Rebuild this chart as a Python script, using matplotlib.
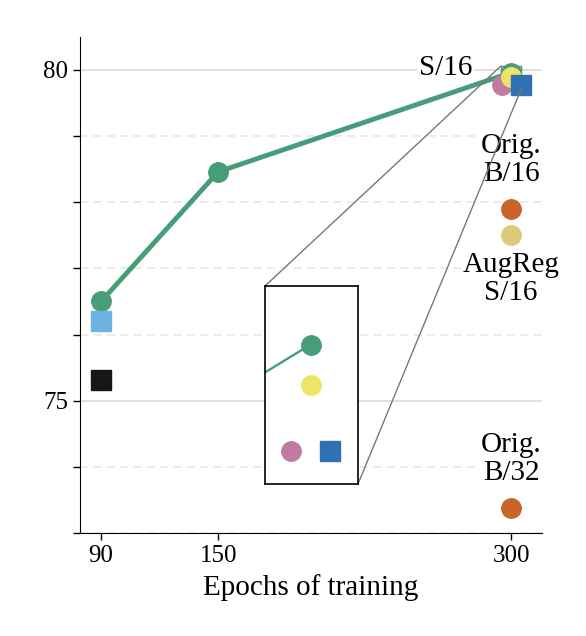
import matplotlib
matplotlib.use("Agg")
import matplotlib.pyplot as plt
import numpy as np
from matplotlib.ticker import FixedLocator
from mpl_toolkits.axes_grid1.inset_locator import mark_inset

plt.rcParams['font.family'] = ['Liberation Serif', 'DejaVu Serif']
plt.rcParams['font.size'] = 18

# datos
epochs_line = [90, 150, 300]
acc_line = [76.5, 78.46, 79.96]

sq_light_x = [90]
sq_light_y = [76.2]
sq_black_x = [90]
sq_black_y = [75.32]

# puntos a 300 epochs (cercanos entre si)
yellow_y = 79.887
pink_y = 79.77
blue_y = 79.77
jit_main = [-4.8, 5.0]   # desplazamiento pink / blue en el grafico
jit_ins = [-2.1, 2.1]    # desplazamiento en el zoom

b16_y = 77.9
aug_y = 77.5
b32_y = 73.38

c_green = '#479d78'
c_light = '#6cb3e4'
c_black = '#161616'
c_pink = '#c27ba0'
c_yellow = '#efe466'
c_blue = '#3071b1'
c_orange = '#c9642a'
c_tan = '#dccb7c'

ms = 14
fs_txt = 21

fig = plt.figure(figsize=(5.86, 6.36), dpi=100)
ax = fig.add_axes([0.1365, 0.162, 0.7885, 0.78])

ax.plot(epochs_line, acc_line, '-o', color=c_green, lw=3.5, ms=ms, zorder=3)
ax.plot(sq_light_x, sq_light_y, 's', color=c_light, ms=ms, zorder=3)
ax.plot(sq_black_x, sq_black_y, 's', color=c_black, ms=ms, zorder=3)
ax.plot([300 + jit_main[0]], [pink_y], 'o', color=c_pink, ms=ms, zorder=3)
ax.plot([300], [yellow_y], 'o', color=c_yellow, ms=ms, zorder=3.2)
ax.plot([300 + jit_main[1]], [blue_y], 's', color=c_blue, ms=ms, zorder=3.3)
ax.plot([300], [b16_y], 'o', color=c_orange, ms=ms, zorder=3)
ax.plot([300], [aug_y], 'o', color=c_tan, ms=ms, zorder=3)
ax.plot([300], [b32_y], 'o', color=c_orange, ms=ms, zorder=3)

ax.set_xlim(79.2, 315.9)
ax.set_ylim(73.0, 80.5)
ax.set_xticks([90, 150, 300])
ax.yaxis.set_major_locator(FixedLocator([75, 80]))
ax.yaxis.set_minor_locator(FixedLocator([73, 74, 76, 77, 78, 79]))
ax.grid(axis='y', which='major', color='#dddddd', lw=1.3, zorder=0)
ax.grid(axis='y', which='minor', color='#e8e8e8', lw=1.2, ls=(0, (5, 3)), zorder=0)
ax.set_axisbelow(True)
ax.tick_params(which='both', length=5, width=1)
for s in ['top', 'right']:
    ax.spines[s].set_visible(False)
ax.set_xlabel('Epochs of training', fontsize=fs_txt, labelpad=5)

bb = dict(facecolor='white', edgecolor='none', pad=1)
ax.text(266.5, 80.03, 'S/16', ha='center', va='center', bbox=bb, zorder=5,
        fontsize=fs_txt)
ax.text(300, 78.64, 'Orig.\nB/16', ha='center', va='center', bbox=bb, zorder=5,
        linespacing=1.12, fontsize=fs_txt)
ax.text(300, 76.84, 'AugReg\nS/16', ha='center', va='center', bbox=bb, zorder=5,
        linespacing=1.12, fontsize=fs_txt)
ax.text(300, 74.12, 'Orig.\nB/32', ha='center', va='center', bbox=bb, zorder=5,
        linespacing=1.12, fontsize=fs_txt)

# zoom
axins = fig.add_axes([0.4522, 0.239, 0.1587, 0.3113])
axins.plot(epochs_line, acc_line, '-o', color=c_green, lw=1.7, ms=ms)
axins.plot([300], [yellow_y], 'o', color=c_yellow, ms=ms)
axins.plot([300 + jit_ins[0]], [pink_y], 'o', color=c_pink, ms=ms)
axins.plot([300 + jit_ins[1]], [blue_y], 's', color=c_blue, ms=ms)
axins.set_xlim(295.0, 305.2)
axins.set_ylim(79.71, 80.065)
axins.set_xticks([])
axins.set_yticks([])
for s in axins.spines.values():
    s.set_linewidth(1.2)
    s.set_color('black')

p, c1, c2 = mark_inset(ax, axins, loc1=2, loc2=4, fc='none', ec='#777777', lw=1.0)
p.set_zorder(2.5)
c1.set_zorder(2.5)
c2.set_zorder(2.5)

fig.savefig('out.png', dpi=100)
